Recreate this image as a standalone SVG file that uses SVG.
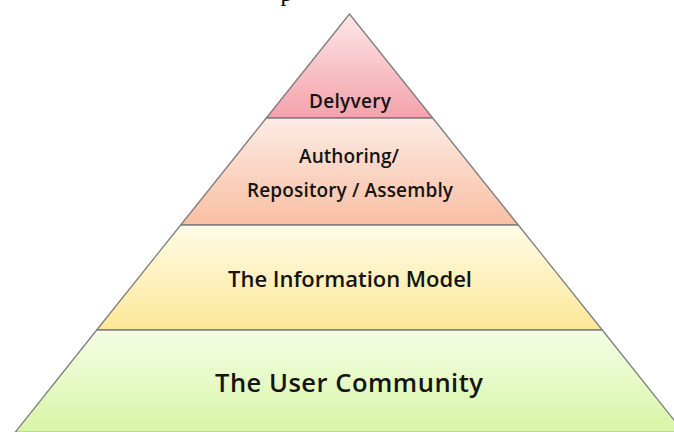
<svg xmlns="http://www.w3.org/2000/svg" width="674" height="432" viewBox="0 0 674 432">
<defs>
<linearGradient id="g1" gradientUnits="userSpaceOnUse" x1="0" y1="14" x2="0" y2="118"><stop offset="0" stop-color="#fde6e8"/><stop offset="1" stop-color="#f4a2aa"/></linearGradient>
<linearGradient id="g2" gradientUnits="userSpaceOnUse" x1="0" y1="118" x2="0" y2="225"><stop offset="0" stop-color="#fdebe4"/><stop offset="1" stop-color="#f9bfa3"/></linearGradient>
<linearGradient id="g3" gradientUnits="userSpaceOnUse" x1="0" y1="225" x2="0" y2="330"><stop offset="0" stop-color="#fffbe6"/><stop offset="1" stop-color="#fde898"/></linearGradient>
<linearGradient id="g4" gradientUnits="userSpaceOnUse" x1="0" y1="330" x2="0" y2="432"><stop offset="0" stop-color="#f5fde6"/><stop offset="1" stop-color="#d7f6a6"/></linearGradient>
</defs>
<style>
.layer{stroke:#7f7f7f;stroke-width:1.3;stroke-linejoin:round}
.lbl{font-family:"Open Sans","Noto Sans",sans-serif;font-weight:600;fill:#141414;text-anchor:middle}
</style>
<text x="280.5" y="0.5" font-family="Liberation Serif, serif" font-size="24" fill="#000">p</text>
<g id="layer-delivery">
<polygon class="layer" fill="url(#g1)" points="349.5,14 266.3,118 432.7,118"/>
<text class="lbl" x="350" y="108" font-size="19" textLength="82" lengthAdjust="spacing">Delyvery</text>
</g>
<g id="layer-authoring">
<polygon class="layer" fill="url(#g2)" points="266.3,118 432.7,118 518.3,225 180.7,225"/>
<text class="lbl" x="349" y="163" font-size="19" textLength="100" lengthAdjust="spacing">Authoring/</text>
<text class="lbl" x="350" y="197" font-size="19" textLength="206" lengthAdjust="spacing">Repository / Assembly</text>
</g>
<g id="layer-model">
<polygon class="layer" fill="url(#g3)" points="180.7,225 518.3,225 602.3,330 96.7,330"/>
<text class="lbl" x="350" y="287" font-size="22" textLength="244" lengthAdjust="spacing">The Information  Model</text>
</g>
<g id="layer-community">
<polygon class="layer" fill="url(#g4)" points="96.7,330 602.3,330 684,432.5 15,432.5"/>
<text class="lbl" x="349" y="392" font-size="25.5" textLength="268" lengthAdjust="spacing">The User Community</text>
</g>
<g id="connectors"/>
</svg>
